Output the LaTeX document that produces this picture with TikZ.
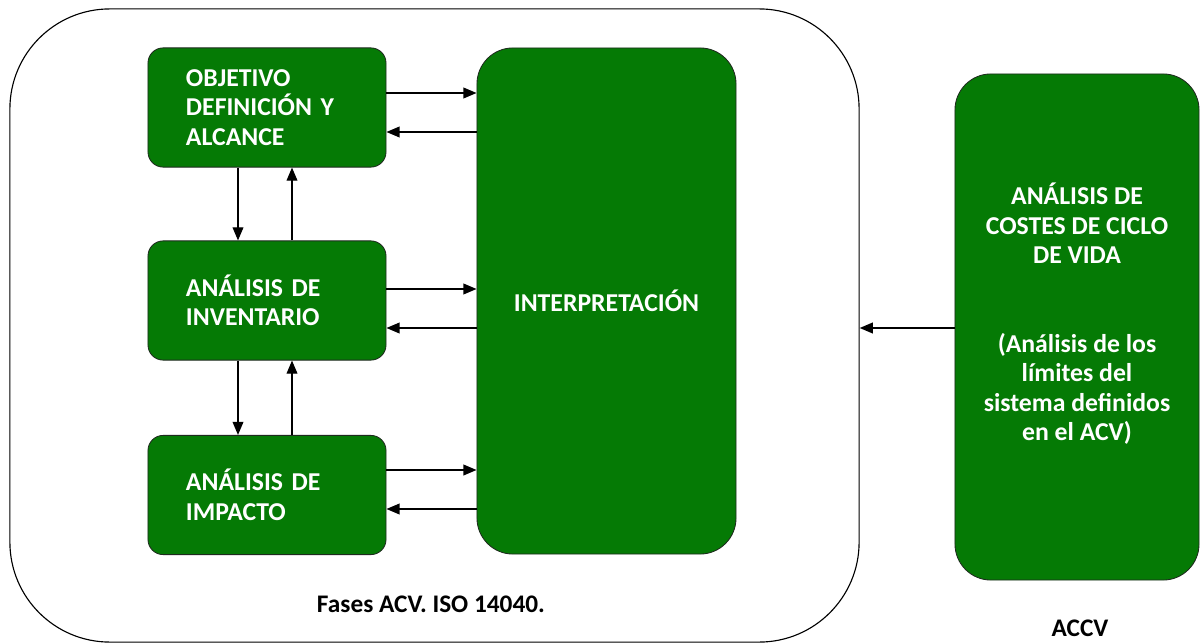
\documentclass[tikz,border=0pt]{standalone}
\usepackage{fontspec}
\setmainfont{Carlito}
\usepackage{xcolor}
\usepackage{tikz}
\usetikzlibrary{positioning, arrows.meta}
\definecolor{acvgreen}{HTML}{057A05}
\definecolor{edgegray}{HTML}{1F2A1F}

\tikzset{
  phase/.style={fill=acvgreen, draw=edgegray, line width=0.6pt, rounded corners=0.38cm,
                text=white, font=\fontsize{18.3}{21}\selectfont\bfseries,
                align=left, inner xsep=0.95cm, text width=4.05cm,
                minimum width=5.95cm, minimum height=2.98cm},
  tallbox/.style={fill=acvgreen, draw=edgegray, line width=0.6pt, rounded corners=0.9cm,
                  text=white, font=\fontsize{18.3}{21}\selectfont\bfseries,
                  align=center, minimum height=12.65cm, inner sep=0pt},
  flow/.style={line width=1pt, -{Triangle[length=0.33cm, width=0.27cm]}}
}

\begin{document}
\begin{tikzpicture}[x=0.025cm, y=-0.025cm]
  \useasboundingbox (0,0) rectangle (1204,643);

  \node[draw, line width=0.8pt, rounded corners=2.5cm, inner sep=0pt,
        minimum width=21.225cm, minimum height=15.825cm] (fases) at (434.5,325.5) {};

  \node[phase] (objetivo) at (267,107.5) {OBJETIVO\\DEFINICIÓN Y\\ALCANCE};
  \node[phase] (inventario) at (267,300.5) {ANÁLISIS DE\\INVENTARIO};
  \node[phase] (impacto) at (267,495) {ANÁLISIS DE\\IMPACTO};
  \node[tallbox, minimum width=6.475cm] (interp) at (606.5,301) {INTERPRETACIÓN};

  \node[tallbox, minimum width=6.1cm] (accv) at (1077,327) {};
  \node[text=white, font=\fontsize{18.3}{21}\selectfont\bfseries, align=center]
       (accvtext) at (1077,314) {ANÁLISIS DE\\COSTES DE CICLO\\DE VIDA\\[42pt]%
       (Análisis de los\\límites del\\sistema definidos\\en el ACV)};

  \node[font=\fontsize{18}{21}\selectfont\bfseries] (faseslabel) at (431,604) {Fases ACV. ISO 14040.};
  \node[font=\fontsize{18}{21}\selectfont\bfseries] (accvlabel) at (1080,628) {ACCV};

  % fases -> interpretacion
  \draw[flow] (objetivo.east |- 0,93) -- (interp.west |- 0,93);
  \draw[flow] (interp.west |- 0,132) -- (objetivo.east |- 0,132);
  \draw[flow] (inventario.east |- 0,289) -- (interp.west |- 0,289);
  \draw[flow] (interp.west |- 0,328) -- (inventario.east |- 0,328);
  \draw[flow] (impacto.east |- 0,470) -- (interp.west |- 0,470);
  \draw[flow] (interp.west |- 0,509) -- (impacto.east |- 0,509);

  % entre fases
  \draw[flow] (objetivo.south -| 238,0) -- (inventario.north -| 238,0);
  \draw[flow] (inventario.north -| 292,0) -- (objetivo.south -| 292,0);
  \draw[flow] (inventario.south -| 238,0) -- (impacto.north -| 238,0);
  \draw[flow] (impacto.north -| 292,0) -- (inventario.south -| 292,0);

  \draw[flow] (accv.west |- 0,328) -- (fases.east |- 0,328);
\end{tikzpicture}
\end{document}
